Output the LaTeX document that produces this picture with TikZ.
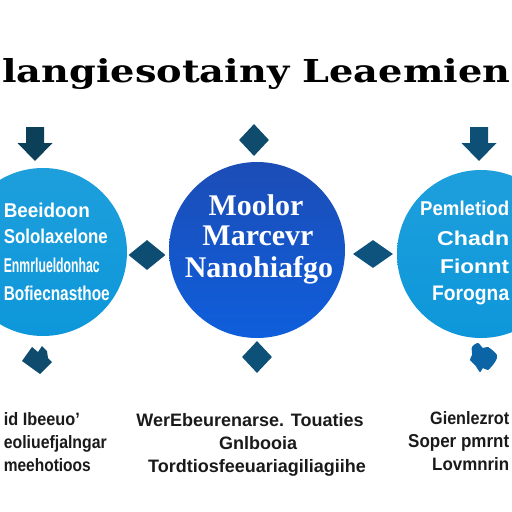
\documentclass[tikz,border=0pt]{standalone}
\usepackage{graphicx}
\usepackage{fontspec}
\setmainfont{Liberation Serif}
\setsansfont{Liberation Sans}
\newfontfamily\titlefont{DejaVu Serif}
\usetikzlibrary{shapes.geometric}
\definecolor{sidetop}{HTML}{1E9FDC}
\definecolor{sidebot}{HTML}{0D97DA}
\definecolor{midtop}{HTML}{1C4DB6}
\definecolor{midbot}{HTML}{0F5EDC}
\definecolor{marknavy}{HTML}{0E4B6C}
\definecolor{markdark}{HTML}{0C3F58}
\definecolor{markblue}{HTML}{0B64A6}
\definecolor{bodytext}{HTML}{1A1A1A}
% squeeze a line of text to a given width
\newcommand{\fitline}[3]{\resizebox{#1pt}{#2pt}{#3}}
\begin{document}
\begin{tikzpicture}[x=1pt,y=-1pt,
        sidecirc/.style={circle, minimum size=168pt, inner sep=0pt,
                         top color=sidetop, bottom color=sidebot},
        midcirc/.style={circle, minimum size=176pt, inner sep=0pt,
                        top color=midtop, bottom color=midbot},
        diam/.style={diamond, fill=marknavy, inner sep=0pt,
                     minimum width=#1, minimum height=30pt},
        sidetxt/.style={inner sep=0pt, text=white,
                        font=\sffamily\bfseries\fontsize{20}{20}\selectfont},
        midtxt/.style={inner sep=0pt, text=white, anchor=base,
                       font=\bfseries\fontsize{30}{30}\selectfont},
        foottxt/.style={inner sep=0pt, text=bodytext,
                        font=\sffamily\bfseries\fontsize{18}{18}\selectfont}
      ]
      \useasboundingbox (0,0) rectangle (512,512);
      \clip (0,0) rectangle (512,512);
      \fill[white] (0,0) rectangle (512,512);

      % title
      \node[inner sep=0pt, anchor=base west] (title) at (2,82)
        {\resizebox{508pt}{24pt}{\titlefont\bfseries langiesotainy Leaemien}};

      % circles
      \node[sidecirc] (left) at (43,252) {};
      \node[midcirc] (mid) at (257,250) {};
      \node[sidecirc] (right) at (481,254) {};

      % markers around the circles
      \foreach \xc/\col in {35/markdark, 479/marknavy!85!markblue}
        \fill[\col] (\xc-9,127) -- (\xc+9,127) -- (\xc+9,143) -- (\xc+17.5,143)
          -- (\xc,161) -- (\xc-17.5,143) -- (\xc-9,143) -- cycle;
      \node[diam=30pt, minimum height=32pt] (dtop) at (254,140) {};
      \node[diam=30pt, minimum height=32pt, fill=marknavy!80!markblue] (dbot) at (257,357) {};
      \node[diam=37pt, fill=marknavy!90!markblue] (dleft) at (147,255) {};
      \node[diam=40pt, minimum height=28pt, fill=marknavy!70!markblue] (dright) at (373,254) {};

      \fill[marknavy] (22,361) -- (32,347) -- (38,352) -- (42,346) -- (47,351)
        -- (48,358) -- (52,362) -- (40,374) -- cycle;
      \fill[markblue] plot[smooth cycle, tension=0.5] coordinates {(472,347) (478,343)
        (483,348) (488,347) (497,355) (495,362) (488,370) (483,368) (480,372)
        (475,365) (470,360) (472,355)};

      % text in the circles
      \foreach \t/\xe/\w/\yb [count=\i] in {Beeidoon/90/86/217, Sololaxelone/108/104/243,
          Enmrlueldonhac/100/96/272, Bofiecnasthoe/110/106/300}
        \node[sidetxt, anchor=base east] (lt\i) at (\xe,\yb) {\fitline{\w}{14.5}{\t}};
      \foreach \t/\xs/\w/\yb [count=\i] in {Pemletiod/420/89/215, Chadn/437/72/245,
          Fionnt/440/69/273, Forogna/432/77/300}
        \node[sidetxt, anchor=base west] (rt\i) at (\xs,\yb) {\fitline{\w}{14.5}{\t}};
      \foreach \t/\xc/\yb [count=\i] in {Moolor/256/215, Marcevr/258/245,
          Nanohiafgo/259/277}
        \node[midtxt] (mt\i) at (\xc,\yb) {\t};

      % text under the circles
      \foreach \t/\xe/\w/\yb [count=\i] in {id Ibeeuo'/80/76/425, eoliuefjalngar/107/103/448,
          meehotioos/91/87/471}
        \node[foottxt, anchor=base east] (lb\i) at (\xe,\yb) {\fitline{\w}{13}{\t}};
      \foreach \t/\xc/\yb [count=\i] in {WerEbeurenarse. Touaties/250/426,
          Gnlbooia/258/449, Tordtiosfeeuariagiliagiihe/257/472}
        \node[foottxt, anchor=base] (mb\i) at (\xc,\yb) {\t};
      \foreach \t/\xs/\w/\yb [count=\i] in {Gienlezrot/430/79/424, Soper pmrnt/408/101/447,
          Lovmnrin/432/77/470}
        \node[foottxt, anchor=base west] (rb\i) at (\xs,\yb) {\fitline{\w}{13}{\t}};
    \end{tikzpicture}
\end{document}
